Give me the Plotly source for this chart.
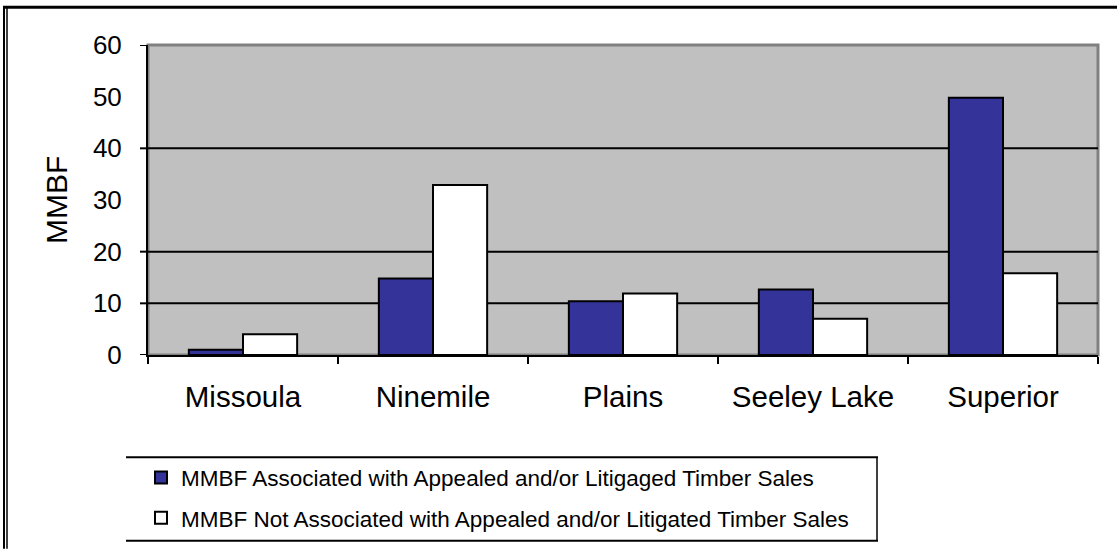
import plotly.graph_objects as go

categories = ["Missoula", "Ninemile", "Plains", "Seeley Lake", "Superior"]
appealed = [1.0, 14.8, 10.4, 12.7, 49.8]
not_appealed = [4.0, 32.9, 11.9, 7.0, 15.8]
series_names = [
    "MMBF Associated with Appealed and/or Litigaged Timber Sales",
    "MMBF Not Associated with Appealed and/or Litigated Timber Sales",
]
y_ticks = [0, 10, 20, 30, 40, 50, 60]
y_marks = [0, 10, 20, 40, 60]
grid_vals = [10, 20, 40]

W, H = 1117, 552
L, R, T, B = 148, 1098, 45, 357
FONT = "Liberation Sans, Arial, sans-serif"


def xp(px):
    return (px - L) / (R - L)


def yp(py):
    return (B - py) / (B - T)


fig = go.Figure()
fig.add_trace(go.Bar(
    x=categories, y=appealed, name=series_names[0], legendgroup="a",
    marker=dict(color="#333399", line=dict(color="black", width=2)),
))
fig.add_trace(go.Bar(
    x=categories, y=not_appealed, name=series_names[1], legendgroup="b",
    marker=dict(color="white", line=dict(color="black", width=2)),
))

shapes = [
    # plot area border (gray top/right)
    dict(type="rect", xref="paper", yref="paper", x0=0, x1=1, y0=0, y1=1,
         line=dict(color="#808080", width=3), layer="below"),
    # outer frame
    dict(type="line", xref="paper", yref="paper", x0=xp(3), x1=xp(W), y0=yp(7), y1=yp(7),
         line=dict(color="black", width=3)),
    dict(type="line", xref="paper", yref="paper", x0=xp(4), x1=xp(4), y0=yp(6), y1=yp(H),
         line=dict(color="black", width=2)),
    dict(type="line", xref="paper", yref="paper", x0=xp(7), x1=xp(7), y0=yp(6), y1=yp(H),
         line=dict(color="black", width=1.5)),
    # legend box lines
    dict(type="line", xref="paper", yref="paper", x0=xp(126), x1=xp(878), y0=yp(460), y1=yp(460),
         line=dict(color="black", width=2)),
    dict(type="line", xref="paper", yref="paper", x0=xp(126), x1=xp(878), y0=yp(544), y1=yp(544),
         line=dict(color="black", width=2)),
    dict(type="line", xref="paper", yref="paper", x0=xp(877), x1=xp(877), y0=yp(460), y1=yp(544),
         line=dict(color="black", width=1.5)),
]
# horizontal gridlines
for v in grid_vals:
    shapes.append(dict(type="line", xref="x domain", yref="y", x0=0, x1=1, y0=v, y1=v,
                       line=dict(color="black", width=2), layer="below"))
# y-axis tick marks
for v in y_marks:
    shapes.append(dict(type="line", xref="x domain", yref="y", x0=-8 / (R - L), x1=0, y0=v, y1=v,
                       line=dict(color="black", width=2), layer="above"))

fig.update_layout(
    width=W, height=H, autosize=False,
    margin=dict(l=L, r=W - R, t=T, b=H - B, pad=0),
    paper_bgcolor="white", plot_bgcolor="#C0C0C0",
    font=dict(family=FONT, color="black"),
    barmode="group", bargap=0.43, bargroupgap=0,
    showlegend=True,
    legend=dict(
        x=xp(141), y=yp(459), xanchor="left", yanchor="top",
        font=dict(size=22.5, family=FONT, color="black"),
        bgcolor="rgba(0,0,0,0)", borderwidth=0,
        tracegroupgap=8, traceorder="grouped",
    ),
    xaxis=dict(
        type="category", showgrid=False, showline=True, linecolor="black", linewidth=2,
        ticks="outside", tickson="boundaries", ticklen=7, tickwidth=2, tickcolor="black",
        tickfont=dict(size=29.5, family=FONT), ticklabelstandoff=15,
    ),
    yaxis=dict(
        range=[0, 60], tickvals=y_ticks, showgrid=False, zeroline=False,
        showline=True, linecolor="black", linewidth=2, ticks="",
        tickfont=dict(size=26, family=FONT), ticklabelstandoff=19,
    ),
    shapes=shapes,
    annotations=[dict(
        text="MMBF", xref="paper", yref="paper", x=xp(56), y=0.5,
        xanchor="center", yanchor="middle", textangle=-90, showarrow=False,
        font=dict(size=30, family=FONT, color="black"),
    )],
)

fig.write_html("out.html", config={"displayModeBar": False},
               post_script="document.body.style.margin='0';")
